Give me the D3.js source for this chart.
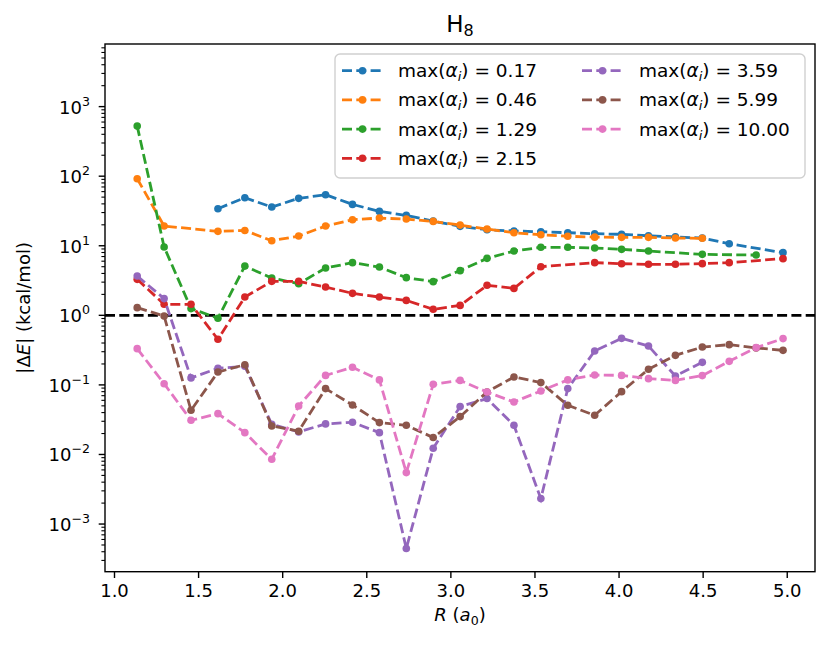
<!DOCTYPE html>
<html>
<head>
<meta charset="utf-8">
<script src="https://cdn.jsdelivr.net/npm/d3@7"></script>
<style>
  body { margin: 0; background: #fff; }
  text { font-family: "DejaVu Sans", sans-serif; fill: #000; }
</style>
</head>
<body>
<svg id="chart" width="830" height="648"></svg>
<script>
// bond distance R (a0)
const R = [1.138, 1.298, 1.458, 1.618, 1.778, 1.938, 2.098, 2.258, 2.418, 2.578,
           2.738, 2.898, 3.058, 3.218, 3.378, 3.538, 3.698, 3.858, 4.018, 4.178,
           4.338, 4.498, 4.658, 4.818, 4.978]

// |dE| in kcal/mol, null = no point
const dE017 = [null, null, null, 34.1, 49.1, 36.0, 48.0, 54.2, 39.3, 31.2, 27.3, 22.6, 19.0,
               17.0, 16.3, 15.9, 15.4, 14.9, 14.6, 13.9, 13.4, 12.9, 10.7, null, 7.96]
const dE046 = [92, 19.2, null, 16.1, 16.6, 11.8, 13.8, 19.2, 23.7, 25.0, 24.2, 22.4, 19.8,
               17.4, 15.4, 14.4, 13.7, 13.3, 13.2, 13.2, 12.9, 12.8, null, null, null]
const dE129 = [525, 9.6, 1.25, 0.91, 5.1, 3.43, 2.85, 4.78, 5.72, 4.94, 3.48, 3.05, 4.39,
               6.59, 8.4, 9.5, 9.5, 9.27, 8.88, 8.4, null, 7.52, null, 7.35, null]
const dE215 = [3.29, 1.44, 1.44, 0.452, 1.83, 3.08, 3.08, 2.55, 2.07, 1.83, 1.64, 1.22, 1.39,
               2.70, 2.44, 5.0, null, 5.72, 5.52, 5.41, 5.41, 5.53, 5.72, null, 6.53]
const dE359 = [3.67, 1.74, 0.126, 0.173, 0.185, 0.0272, 0.0211, 0.0275, 0.029, 0.0206, 0.000445, 0.0123, 0.0488,
               0.0636, 0.0263, 0.00232, 0.0885, 0.307, 0.467, 0.362, 0.134, 0.211, null, null, null]
const dE599 = [1.29, 0.977, 0.0432, 0.153, 0.195, 0.0257, 0.0216, 0.0885, 0.0514, 0.0287, 0.0263, 0.0175, 0.035,
               0.0792, 0.130, 0.108, 0.0509, 0.0366, 0.080, 0.168, 0.266, 0.350, 0.379, 0.340, 0.314]
const dE1000 = [0.332, 0.104, 0.031, 0.0386, 0.0206, 0.00853, 0.0497, 0.137, 0.179, 0.118, 0.00549, 0.102, 0.116,
                0.079, 0.0568, 0.0818, 0.118, 0.139, 0.137, 0.123, 0.116, 0.136, 0.218, 0.343, 0.463]

const alphaMax = ["0.17", "0.46", "1.29", "2.15", "3.59", "5.99", "10.00"]
const colors = ["#1f77b4", "#ff7f0e", "#2ca02c", "#d62728", "#9467bd", "#8c564b", "#e377c2"]
const seriesList = [dE017, dE046, dE129, dE215, dE359, dE599, dE1000]

const xTicks = [1.0, 1.5, 2.0, 2.5, 3.0, 3.5, 4.0, 4.5, 5.0]
const yDecades = [-3, -2, -1, 0, 1, 2, 3]

const pLeft = 105, pRight = 815, pTop = 44, pBottom = 571.7

const svg = d3.select("#chart")

const x = d3.scaleLinear().domain([0.9465, 5.168]).range([pLeft, pRight])
const y = d3.scaleLog().domain([Math.pow(10, -3.685), Math.pow(10, 3.9)]).range([pBottom, pTop])

// y=1 reference line
svg.append("line")
  .attr("x1", pLeft).attr("x2", pRight)
  .attr("y1", y(1)).attr("y2", y(1))
  .attr("stroke", "#000").attr("stroke-width", 2.8)
  .attr("stroke-dasharray", "10,4.3")

const line = d3.line().x(d => x(d[0])).y(d => y(d[1]))

seriesList.forEach((s, k) => {
  let pts = R.map((r, i) => [r, s[i]]).filter(d => d[1] != null)
  let g = svg.append("g")
  g.append("path")
    .attr("d", line(pts))
    .attr("fill", "none")
    .attr("stroke", colors[k])
    .attr("stroke-width", 2.8)
    .attr("stroke-dasharray", "10,4.3")
  g.selectAll("circle").data(pts).enter().append("circle")
    .attr("cx", d => x(d[0]))
    .attr("cy", d => y(d[1]))
    .attr("r", 3.8)
    .attr("fill", colors[k])
})

// frame
svg.append("rect")
  .attr("x", pLeft).attr("y", pTop)
  .attr("width", pRight - pLeft).attr("height", pBottom - pTop)
  .attr("fill", "none").attr("stroke", "#000").attr("stroke-width", 1.4)

// x axis
const xAxis = svg.append("g")
  .attr("transform", `translate(0,${pBottom})`)
  .call(d3.axisBottom(x).tickValues(xTicks).tickFormat(d3.format(".1f")).tickSize(6.3).tickPadding(6))
xAxis.select(".domain").remove()
xAxis.selectAll(".tick line").attr("stroke-width", 1.4)
xAxis.selectAll(".tick text").attr("font-size", 18).attr("font-family", "DejaVu Sans")

// y axis - minor ticks
let minor = []
for (let k = -4; k <= 3; k++) {
  for (let m = 2; m <= 9; m++) {
    let v = m * Math.pow(10, k)
    if (v > y.domain()[0] && v < y.domain()[1]) minor.push(v)
  }
}
svg.selectAll(".minor").data(minor).enter().append("line")
  .attr("x1", pLeft - 3.6).attr("x2", pLeft)
  .attr("y1", d => y(d)).attr("y2", d => y(d))
  .attr("stroke", "#000").attr("stroke-width", 1.1)

svg.selectAll(".major").data(yDecades).enter().append("line")
  .attr("x1", pLeft - 6.3).attr("x2", pLeft)
  .attr("y1", d => y(Math.pow(10, d))).attr("y2", d => y(Math.pow(10, d)))
  .attr("stroke", "#000").attr("stroke-width", 1.4)

const ylab = svg.selectAll(".ylab").data(yDecades).enter().append("text")
  .attr("x", 90)
  .attr("y", d => y(Math.pow(10, d)) + 7)
  .attr("text-anchor", "end")
  .attr("font-size", 18)
ylab.append("tspan").text("10")
ylab.append("tspan").attr("dy", -8).attr("font-size", 12.6)
  .text(d => d < 0 ? "\u2212" + (-d) : d)

// axis labels
const xl = svg.append("text")
  .attr("x", (pLeft + pRight) / 2).attr("y", 621)
  .attr("text-anchor", "middle").attr("font-size", 18)
xl.append("tspan").attr("font-style", "italic").text("R")
xl.append("tspan").text(" (")
xl.append("tspan").attr("font-style", "italic").text("a")
xl.append("tspan").attr("font-size", 12.6).attr("dy", 4).text("0")
xl.append("tspan").attr("dy", -4).text(")")

const yl = svg.append("text")
  .attr("transform", `translate(30,${(pTop + pBottom) / 2}) rotate(-90)`)
  .attr("text-anchor", "middle").attr("font-size", 18)
yl.append("tspan").text("|\u0394")
yl.append("tspan").attr("font-style", "italic").text("E")
yl.append("tspan").text("| (kcal/mol)")

// title
const tt = svg.append("text")
  .attr("x", (pLeft + pRight) / 2).attr("y", 32)
  .attr("text-anchor", "middle").attr("font-size", 23)
tt.append("tspan").text("H")
tt.append("tspan").attr("font-size", 16).attr("dy", 4).text("8")

// legend
const lg = svg.append("g")
lg.append("rect")
  .attr("x", 335).attr("y", 54).attr("width", 470).attr("height", 124)
  .attr("rx", 5).attr("fill", "#fff").attr("fill-opacity", 0.8)
  .attr("stroke", "#d0d0d0").attr("stroke-width", 1.4)

alphaMax.forEach((a, k) => {
  let col = k < 4 ? 0 : 1
  let row = k < 4 ? k : k - 4
  let hx = col == 0 ? 342 : 582
  let tx = col == 0 ? 398 : 639
  let cy = 70.7 + row * 29.2
  lg.append("line")
    .attr("x1", hx).attr("x2", hx + 41)
    .attr("y1", cy).attr("y2", cy)
    .attr("stroke", colors[k]).attr("stroke-width", 2.8)
    .attr("stroke-dasharray", "10,4.3")
  lg.append("circle").attr("cx", hx + 20.5).attr("cy", cy).attr("r", 3.8).attr("fill", colors[k])
  let t = lg.append("text").attr("x", tx).attr("y", cy + 6.5).attr("font-size", 18.5)
  t.append("tspan").text("max(")
  t.append("tspan").attr("font-style", "italic").text("\u03b1")
  t.append("tspan").attr("font-style", "italic").attr("font-size", 13).attr("dy", 4).text("i")
  t.append("tspan").attr("dy", -4).text(") = " + a)
})
</script>
</body>
</html>
